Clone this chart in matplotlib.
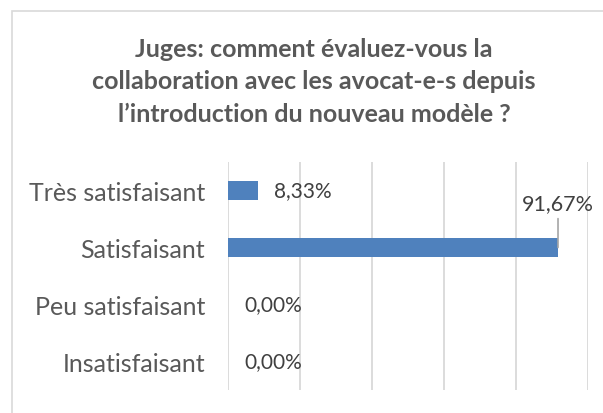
import matplotlib
matplotlib.use('Agg')
import matplotlib.pyplot as plt
from matplotlib.patches import Rectangle

# Données du graphique
categories = ['Très satisfaisant', 'Satisfaisant', 'Peu satisfaisant', 'Insatisfaisant']
valeurs = [0.0833, 0.9167, 0.0, 0.0]
titre_lignes = ['Juges: comment évaluez-vous la',
                'collaboration avec les avocat-e-s depuis',
                'l\u2019introduction du nouveau modèle ?']

W, H = 603, 414
fig = plt.figure(figsize=(W / 100, H / 100), dpi=100)
ax = fig.add_axes([228 / W, 1 - 391 / H, (588 - 228) / W, (391 - 163) / H])

gris_grille = '#D9D9D9'
gris_texte = '#595959'

y = list(range(len(categories)))
ax.barh(y, valeurs, height=0.35, color='#4F81BD', zorder=3)

ax.set_xlim(0, 1)
ax.set_ylim(len(categories) - 0.5, -0.5)
ax.set_xticks([0, 0.2, 0.4, 0.6, 0.8, 1.0])
ax.xaxis.grid(True, color=gris_grille, linewidth=1.3, zorder=0)
ax.tick_params(axis='x', length=0, labelbottom=False)
ax.set_yticks(y)
ax.set_yticklabels(categories, fontsize=18, color=gris_texte, family='Lato')
ax.tick_params(axis='y', length=0, pad=16.5)
for s in ax.spines.values():
    s.set_visible(False)

def fmt(v):
    return f'{v * 100:.2f}%'.replace('.', ',')

# Étiquettes de données
for i, v in enumerate(valeurs):
    if v > 0.5:
        ax.annotate(fmt(v), xy=(v, i), xytext=(0, 32), textcoords='offset points',
                    ha='center', va='center', fontsize=15.5, color='#404040', family='Lato',
                    arrowprops=dict(arrowstyle='-', color='#A6A6A6', lw=1.2,
                                    shrinkA=2, shrinkB=0))
    else:
        ax.annotate(fmt(v), xy=(v, i), xytext=(11.5, 0), textcoords='offset points',
                    ha='left', va='center', fontsize=15, color='#404040', family='Lato')

# Titre
for k, ligne in enumerate(titre_lignes):
    fig.text(314 / W, 1 - (57 + 32.5 * k) / H, ligne, ha='center', va='baseline',
             fontsize=18, fontweight='bold', color=gris_texte, family='Lato')

# Cadre
fig.patches.append(Rectangle((12 / W, -0.1), 1.2, 1 - 12 / H + 0.1,
                             transform=fig.transFigure, fill=False,
                             edgecolor=gris_grille, linewidth=1.2))

plt.savefig('out.png', dpi=100)
plt.close(fig)
